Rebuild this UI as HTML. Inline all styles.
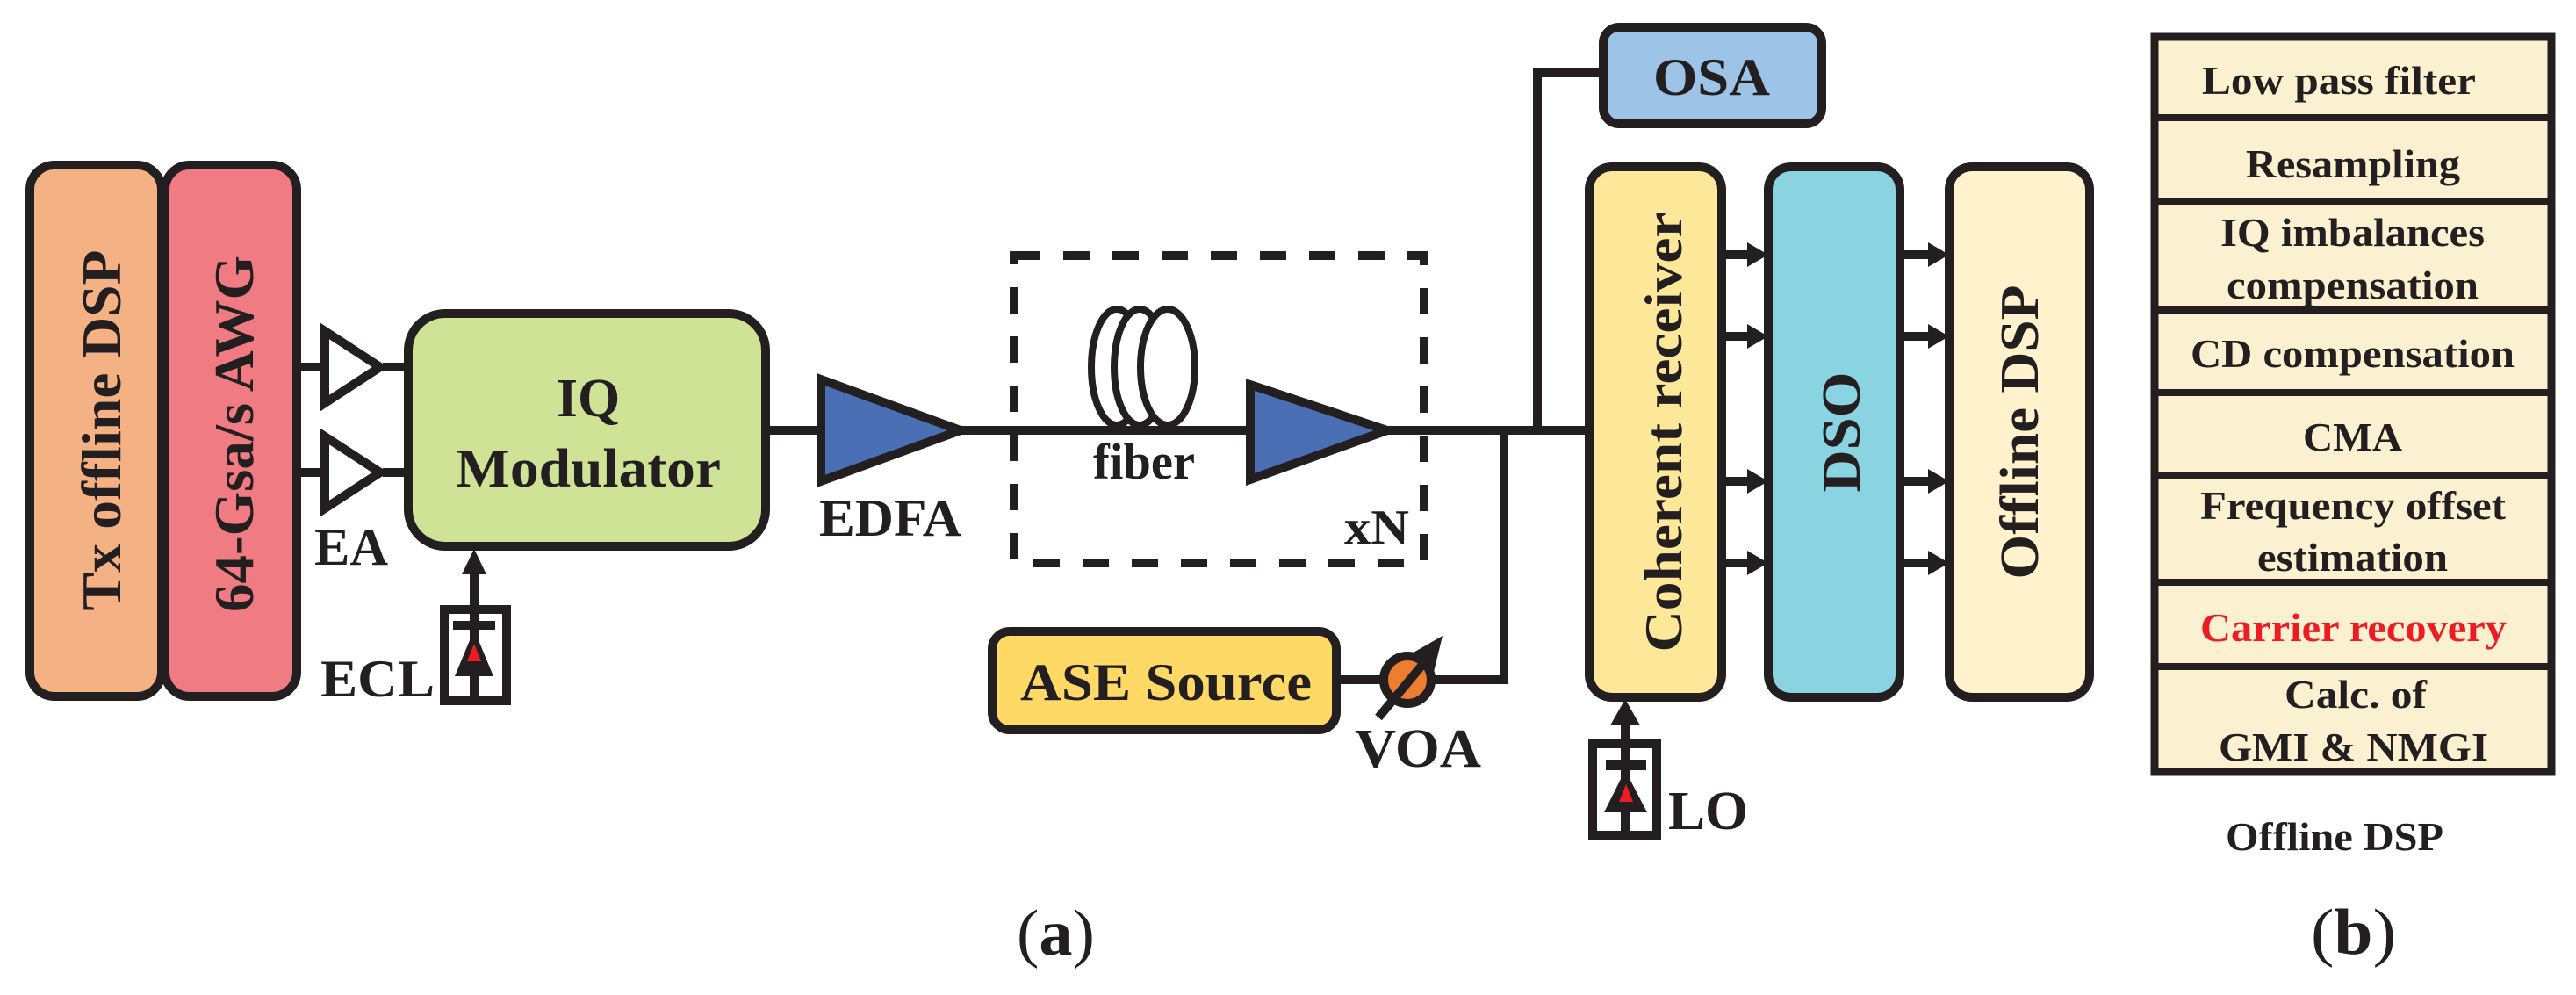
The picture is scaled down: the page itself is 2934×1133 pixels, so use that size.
<!DOCTYPE html>
<html><head><meta charset="utf-8"><style>
html,body{margin:0;padding:0;background:#fff;}
svg{display:block;}
text{font-family:"Liberation Serif",serif;font-weight:bold;fill:#231f20;}
</style></head><body>
<svg width="2934" height="1133" viewBox="0 0 2934 1133" xmlns="http://www.w3.org/2000/svg">
<g stroke="#231f20" stroke-width="10" fill="none">
<!-- left blocks -->
<rect x="34" y="188" width="150" height="605" rx="28" fill="#F4B183"/>
<rect x="188" y="188" width="150" height="605" rx="28" fill="#F07B82"/>
<!-- lines to EA -->
<line x1="338" y1="418" x2="368" y2="418"/>
<line x1="338" y1="538" x2="368" y2="538"/>
<line x1="436" y1="418" x2="465" y2="418"/>
<line x1="436" y1="538" x2="465" y2="538"/>
<polygon points="370,377 370,459 433,418" fill="#fff"/>
<polygon points="370,497 370,579 433,538" fill="#fff"/>
<!-- IQ modulator -->
<rect x="465" y="357" width="407" height="265" rx="42" fill="#CFE295"/>
<!-- ECL -->
<line x1="540" y1="650" x2="540" y2="798"/>
<rect x="506" y="694" width="71" height="104" fill="#fff"/>
<line x1="540" y1="694" x2="540" y2="798"/>
<!-- main line -->
<line x1="872" y1="490" x2="935" y2="490"/>
<line x1="1095" y1="490" x2="1424" y2="490"/>
<line x1="1580" y1="490" x2="1812" y2="490"/>
<polygon points="935,432 935,548 1094,490" fill="#4A6FB5"/>
<polygon points="1424,438 1424,546 1580,490" fill="#4A6FB5"/>
<!-- fiber coils -->
<ellipse cx="1272" cy="418" rx="29" ry="66" fill="#fff" stroke-width="8"/>
<ellipse cx="1298" cy="418" rx="29" ry="66" fill="#fff" stroke-width="8"/>
<ellipse cx="1330" cy="418" rx="31" ry="66" fill="#fff" stroke-width="8"/>
<!-- dashed box -->
<rect x="1155" y="291" width="467" height="350" stroke-dasharray="30,26"/>
<!-- OSA path -->
<polyline points="1751,490 1751,83 1828,83"/>
<rect x="1826" y="31" width="249" height="110" rx="18" fill="#9DC3E6"/>
<!-- ASE path -->
<polyline points="1520,774 1713,774 1713,490"/>
<rect x="1130" y="719" width="392" height="112" rx="20" fill="#FFD966"/>
<circle cx="1603" cy="774" r="27" fill="#ED7D31"/>
<line x1="1570" y1="817" x2="1630" y2="745" stroke-width="10"/>
<!-- receivers -->
<rect x="1810" y="190" width="151" height="604" rx="26" fill="#FDE89A"/>
<rect x="2014" y="190" width="150" height="604" rx="26" fill="#8AD4E2"/>
<rect x="2220" y="190" width="160" height="604" rx="26" fill="#FFF2CC"/>
<!-- LO -->
<line x1="1851" y1="820" x2="1851" y2="952"/>
<rect x="1814" y="847" width="73" height="104" fill="#fff"/>
<line x1="1851" y1="847" x2="1851" y2="952"/>
<!-- arrows lines -->
<g>
<line x1="1961" y1="290" x2="1992" y2="290"/><line x1="1961" y1="383" x2="1992" y2="383"/>
<line x1="1961" y1="548" x2="1992" y2="548"/><line x1="1961" y1="641" x2="1992" y2="641"/>
<line x1="2164" y1="290" x2="2197" y2="290"/><line x1="2164" y1="383" x2="2197" y2="383"/>
<line x1="2164" y1="548" x2="2197" y2="548"/><line x1="2164" y1="641" x2="2197" y2="641"/>
</g>
<!-- table -->
<rect x="2454" y="42" width="452" height="837" fill="#FBF0CF" stroke-width="9"/>
<g stroke-width="8">
<line x1="2454" y1="134" x2="2906" y2="134"/>
<line x1="2454" y1="230" x2="2906" y2="230"/>
<line x1="2454" y1="353" x2="2906" y2="353"/>
<line x1="2454" y1="447" x2="2906" y2="447"/>
<line x1="2454" y1="542" x2="2906" y2="542"/>
<line x1="2454" y1="663" x2="2906" y2="663"/>
<line x1="2454" y1="759" x2="2906" y2="759"/>
</g>
</g>
<!-- filled shapes -->
<g fill="#231f20">
<polygon points="540,625 526,654 554,654"/>
<rect x="516" y="707" width="48" height="10"/>
<polygon points="540,717 518,770 562,770"/>
<polygon points="1851,796 1834,826 1868,826"/>
<rect x="1829" y="865" width="46" height="12"/>
<polygon points="1851,877 1827,925 1876,925"/>
<polygon points="1643,724 1608,744 1633,765"/>
<polygon points="2014,290 1990,276 1990,304"/><polygon points="2014,383 1990,369 1990,397"/>
<polygon points="2014,548 1990,534 1990,562"/><polygon points="2014,641 1990,627 1990,655"/>
<polygon points="2220,290 2196,276 2196,304"/><polygon points="2220,383 2196,369 2196,397"/>
<polygon points="2220,548 2196,534 2196,562"/><polygon points="2220,641 2196,627 2196,655"/>
</g>
<g fill="#ED1C24">
<polygon points="540,733 532,753 548,753"/>
<polygon points="1852,893 1844,913 1860,913"/>
</g>
<!-- texts left -->
<text transform="translate(137,490) rotate(-90)" text-anchor="middle" font-size="64" textLength="411" lengthAdjust="spacingAndGlyphs">Tx offline DSP</text>
<text transform="translate(288,494) rotate(-90)" text-anchor="middle" font-size="64" textLength="406" lengthAdjust="spacingAndGlyphs">64-Gsa/s AWG</text>
<text x="670" y="474" text-anchor="middle" font-size="62">IQ</text>
<text x="519" y="554" font-size="62" textLength="302" lengthAdjust="spacingAndGlyphs">Modulator</text>
<text x="358" y="643" font-size="60" textLength="84" lengthAdjust="spacingAndGlyphs">EA</text>
<text x="365" y="793" font-size="60" textLength="130" lengthAdjust="spacingAndGlyphs">ECL</text>
<text x="933" y="610" font-size="60" textLength="162" lengthAdjust="spacingAndGlyphs">EDFA</text>
<text x="1245" y="545" font-size="58" textLength="116" lengthAdjust="spacingAndGlyphs">fiber</text>
<text x="1531" y="619" font-size="56" textLength="74" lengthAdjust="spacingAndGlyphs">xN</text>
<text x="1883" y="108" font-size="60" textLength="133" lengthAdjust="spacingAndGlyphs">OSA</text>
<text x="1162" y="797" font-size="60" textLength="332" lengthAdjust="spacingAndGlyphs">ASE Source</text>
<text x="1543" y="873" font-size="62" textLength="144" lengthAdjust="spacingAndGlyphs">VOA</text>
<text x="1900" y="944" font-size="62" textLength="91" lengthAdjust="spacingAndGlyphs">LO</text>
<text transform="translate(1915,492) rotate(-90)" text-anchor="middle" font-size="60" textLength="501" lengthAdjust="spacingAndGlyphs">Coherent receiver</text>
<text transform="translate(2118,492) rotate(-90)" text-anchor="middle" font-size="62" textLength="137" lengthAdjust="spacingAndGlyphs">DSO</text>
<text transform="translate(2321,492) rotate(-90)" text-anchor="middle" font-size="62" textLength="335" lengthAdjust="spacingAndGlyphs">Offline DSP</text>
<!-- table texts -->
<g font-size="46">
<text x="2508" y="107" textLength="312" lengthAdjust="spacingAndGlyphs">Low pass filter</text>
<text x="2558" y="202" textLength="244" lengthAdjust="spacingAndGlyphs">Resampling</text>
<text x="2529" y="280" textLength="301" lengthAdjust="spacingAndGlyphs">IQ imbalances</text>
<text x="2536" y="340" textLength="287" lengthAdjust="spacingAndGlyphs">compensation</text>
<text x="2495" y="418" textLength="369" lengthAdjust="spacingAndGlyphs">CD compensation</text>
<text x="2623" y="513" textLength="113" lengthAdjust="spacingAndGlyphs">CMA</text>
<text x="2506" y="591" textLength="348" lengthAdjust="spacingAndGlyphs">Frequency offset</text>
<text x="2571" y="650" textLength="217" lengthAdjust="spacingAndGlyphs">estimation</text>
<text x="2506" y="730" textLength="349" lengthAdjust="spacingAndGlyphs" style="fill:#ED1C24">Carrier recovery</text>
<text x="2602" y="806" textLength="162" lengthAdjust="spacingAndGlyphs">Calc. of</text>
<text x="2527" y="866" textLength="307" lengthAdjust="spacingAndGlyphs">GMI &amp; NMGI</text>
<text x="2535" y="968" textLength="248" lengthAdjust="spacingAndGlyphs">Offline DSP</text>
</g>
<text x="1158" y="1087" font-size="74" style="font-weight:normal" textLength="89" lengthAdjust="spacingAndGlyphs">(<tspan style="font-weight:bold">a</tspan>)</text>
<text x="2632" y="1086" font-size="74" style="font-weight:normal" textLength="97" lengthAdjust="spacingAndGlyphs">(<tspan style="font-weight:bold">b</tspan>)</text>
</svg>
</body></html>
